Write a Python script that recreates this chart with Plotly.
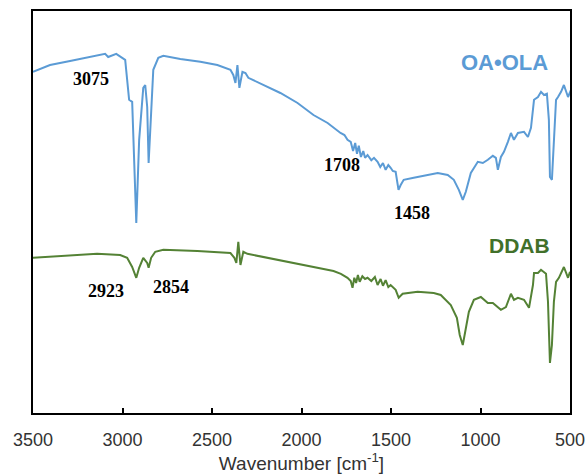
import plotly.graph_objects as go

# OA•OLA spectrum (wavenumber cm^-1, intensity a.u.)
oa_wn = [3500, 3405, 3293, 3181, 3097, 3080, 3035, 2985, 2974, 2963, 2946, 2935, 2923, 2907,
         2884, 2873, 2862, 2854, 2840, 2828, 2800, 2772, 2677, 2565, 2470, 2397, 2381, 2369,
         2358, 2347, 2330, 2313, 2297, 2213, 2118, 2022, 1933, 1854, 1782, 1760, 1743, 1725,
         1712, 1700, 1690, 1680, 1668, 1655, 1645, 1631, 1610, 1595, 1575, 1560, 1545, 1530,
         1515, 1502, 1490, 1474, 1458, 1446, 1429, 1373, 1317, 1239, 1183, 1149, 1121, 1099,
         1082, 1054, 1015, 987, 959, 931, 914, 903, 886, 869, 847, 830, 813, 791, 757, 735,
         718, 701, 679, 662, 645, 629, 618, 612, 601, 590, 578, 567, 550, 534, 511, 494]
oa_val = [85.3, 87.0, 88.0, 89.0, 89.8, 89.0, 89.8, 88.3, 83.3, 78.3, 77.8, 64.0, 47.5, 68.3,
          81.3, 82.0, 76.5, 62.5, 76.5, 85.8, 88.8, 89.3, 88.5, 87.8, 87.0, 85.8, 84.5, 82.5,
          87.0, 81.3, 85.3, 85.0, 83.8, 82.0, 80.0, 77.5, 74.5, 72.5, 70.0, 69.5, 68.3, 67.8,
          65.5, 67.5, 64.8, 66.8, 64.0, 65.5, 63.8, 64.5, 63.2, 63.8, 62.8, 61.5, 62.5, 60.8,
          62.0, 61.3, 60.5, 60.3, 55.8, 57.0, 58.3, 58.8, 59.3, 60.0, 59.5, 58.3, 55.8, 53.3,
          55.3, 60.0, 62.8, 62.5, 63.3, 64.3, 63.8, 60.8, 64.0, 65.3, 67.8, 70.0, 68.3, 70.0,
          70.3, 69.0, 71.3, 78.3, 79.0, 80.3, 79.5, 79.8, 73.3, 59.0, 58.3, 69.0, 78.3, 79.0,
          80.3, 82.0, 79.0, 80.8]

# DDAB spectrum
dd_wn = [3500, 3332, 3142, 3013, 2974, 2946, 2923, 2907, 2884, 2862, 2854, 2840, 2817, 2772,
         2582, 2397, 2375, 2364, 2353, 2341, 2325, 2302, 2213, 2022, 1950, 1910, 1821, 1780,
         1743, 1725, 1715, 1705, 1695, 1685, 1675, 1660, 1645, 1631, 1610, 1590, 1575, 1558,
         1545, 1530, 1515, 1502, 1474, 1457, 1435, 1351, 1261, 1222, 1166, 1132, 1116, 1099,
         1088, 1065, 1037, 998, 959, 931, 886, 858, 830, 813, 791, 757, 729, 707, 701, 679,
         662, 634, 623, 618, 612, 601, 590, 578, 562, 534, 511, 500]
dd_val = [38.8, 39.3, 39.8, 39.5, 38.8, 36.5, 33.8, 36.3, 38.8, 37.5, 36.3, 38.8, 40.3, 40.8,
          40.5, 40.0, 38.8, 37.5, 42.8, 37.0, 40.3, 39.8, 39.0, 37.3, 36.5, 36.3, 35.5, 34.8,
          33.8, 33.0, 31.3, 33.8, 32.5, 34.5, 32.8, 34.2, 33.5, 33.8, 33.0, 34.0, 32.0, 33.5,
          31.8, 33.2, 31.5, 32.0, 30.8, 28.8, 29.8, 30.3, 30.0, 29.5, 27.0, 23.8, 19.5, 17.0,
          19.5, 25.3, 28.3, 29.0, 27.5, 27.5, 25.8, 26.5, 29.8, 28.3, 28.8, 28.3, 26.3, 32.0,
          35.0, 35.0, 35.8, 34.8, 27.8, 17.0, 12.5, 17.0, 27.8, 32.8, 33.8, 36.5, 33.8, 35.3]

x_ticks = [3500, 3000, 2500, 2000, 1500, 1000, 500]

peak_labels = ["3075", "1708", "1458", "2923", "2854"]
peak_x = [3175, 1776, 1384, 3091, 2728]
peak_y = [83.5, 62.0, 50.0, 30.5, 31.5]

blue = "#5B9BD5"
green = "#548235"

fig = go.Figure()
fig.add_trace(go.Scatter(x=oa_wn, y=oa_val, mode="lines", name="OA•OLA",
                         line=dict(color=blue, width=2)))
fig.add_trace(go.Scatter(x=dd_wn, y=dd_val, mode="lines", name="DDAB",
                         line=dict(color=green, width=2)))

for t, px, py in zip(peak_labels, peak_x, peak_y):
    fig.add_annotation(x=px, y=py, text="<b>" + t + "</b>", showarrow=False,
                       font=dict(family="Liberation Serif, Times New Roman, serif",
                                 size=18, color="black"))

fig.add_annotation(x=864, y=87.75, text="<b>OA•OLA</b>", showarrow=False,
                   font=dict(family="Liberation Sans, Arial, sans-serif", size=22, color=blue))
fig.add_annotation(x=780, y=42.0, text="<b>DDAB</b>", showarrow=False,
                   font=dict(family="Liberation Sans, Arial, sans-serif", size=21, color="#41702A"))

fig.update_layout(
    width=588, height=476,
    margin=dict(l=33, r=18, t=11, b=63),
    paper_bgcolor="white", plot_bgcolor="white",
    showlegend=False,
    xaxis=dict(range=[3500, 500], tickvals=x_ticks, ticktext=[str(v) for v in x_ticks],
               ticks="inside", ticklen=5, tickwidth=2, tickcolor="black",
               showline=True, linecolor="black", linewidth=2, mirror=True,
               showgrid=False, zeroline=False, automargin=False,
               ticklabelstandoff=9,
               tickfont=dict(family="Liberation Sans, Arial, sans-serif", size=18, color="#333333"),
               title=dict(text="Wavenumber [cm<sup>-1</sup>]",
                          font=dict(family="Liberation Sans, Arial, sans-serif", size=19, color="#333333"),
                          standoff=4)),
    yaxis=dict(range=[0, 100.5], showticklabels=False, ticks="",
               showline=True, linecolor="black", linewidth=2, mirror=True,
               showgrid=False, zeroline=False, automargin=False),
)

fig.write_html("out.html", config={"displayModeBar": False},
               post_script="document.body.style.margin='0';document.body.style.overflow='hidden';")
